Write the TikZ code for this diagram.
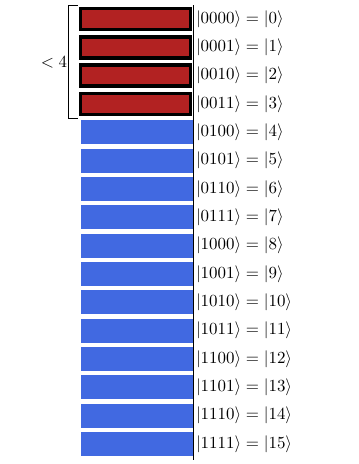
\documentclass[tikz,border=0pt]{standalone}
\usepackage{amsmath}
\definecolor{barred}{RGB}{178,34,34}
\definecolor{barblue}{RGB}{65,105,225}
\tikzset{
  redbar/.style={fill=barred, draw=black, line width=2pt},
  bluebar/.style={fill=barblue},
  statelabel/.style={anchor=west, inner sep=1pt}
}
\begin{document}
\begin{tikzpicture}[x=0.59pt,y=-0.59pt]

    % rahmen
    \useasboundingbox (0,0) rectangle (359,464);

    % balken
    \foreach \i in {0,...,15} {
      \pgfmathsetmacro{\yc}{19+28.33*\i}
      \ifnum\i<4
        \node[redbar, minimum width=110pt*0.59, minimum height=21pt*0.59, inner sep=0pt, anchor=east] (bar\i) at (192,\yc) {};
      \else
        \node[bluebar, minimum width=112pt*0.59, minimum height=24pt*0.59, inner sep=0pt, anchor=east] (bar\i) at (193,\yc) {};
      \fi
    }

    % achse
    \coordinate (axtop) at (193,5);
    \coordinate (axbot) at (193,460);
    \draw[thin] (axtop) -- (axbot);

    % zustaende
    \foreach \i/\b in {0/0000,1/0001,2/0010,3/0011,4/0100,5/0101,6/0110,7/0111,
                       8/1000,9/1001,10/1010,11/1011,12/1100,13/1101,14/1110,15/1111} {
      \pgfmathsetmacro{\yc}{19+28.33*\i}
      \node[statelabel] (lab\i) at (194,\yc) {$|\b\rangle = |\i\rangle$};
    }

    % klammer
    \coordinate (brtop) at (78,5.5);
    \coordinate (brbot) at (78,118);
    \draw[thin] (brtop) -- (68,5.5) -- (68,118) -- (brbot);
    \node (lt4) at (54,62) {$<4$};

  \end{tikzpicture}
\end{document}
